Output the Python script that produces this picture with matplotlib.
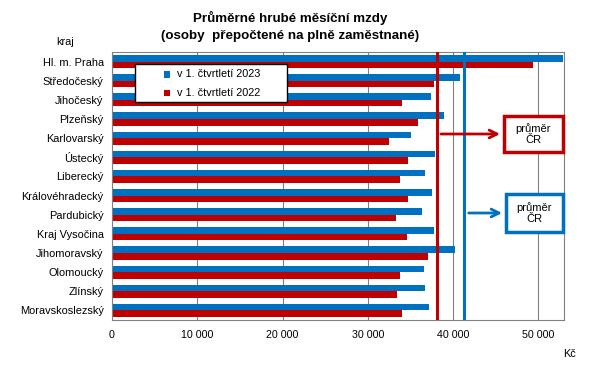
import numpy as np
import matplotlib.pyplot as plt
from matplotlib.patches import Rectangle

plt.rcParams['font.family'] = ['Liberation Sans', 'DejaVu Sans']

kraje = ['Hl. m. Praha', 'Středočeský', 'Jihočeský', 'Plzeňský', 'Karlovarský',
         'Ústecký', 'Liberecký', 'Královéhradecký', 'Pardubický', 'Kraj Vysočina',
         'Jihomoravský', 'Olomoucký', 'Zlínský', 'Moravskoslezský']
mzdy_2023 = [52840, 40800, 37400, 38920, 35010, 37900, 36700, 37510, 36340, 37750,
             40210, 36580, 36690, 37160]
mzdy_2022 = [49320, 37750, 34000, 35870, 32470, 34700, 33760, 34700, 33290, 34580,
             37040, 33760, 33410, 34000]
prumer_2023 = 41300
prumer_2022 = 38060
xticks = [0, 10000, 20000, 30000, 40000, 50000]
popisky = ['v 1. čtvrtletí 2023', 'v 1. čtvrtletí 2022']

modra = '#0070C0'
cervena = '#C00000'

W, H = 590, 366
fig = plt.figure(figsize=(5.9, 3.66), dpi=100)
ax = fig.add_axes([112/W, 1-320/H, 452/W, 268/H])

y = np.arange(len(kraje))
h = 0.34
ax.barh(y - h/2, mzdy_2023, height=h, color=modra, zorder=2)
ax.barh(y + h/2, mzdy_2022, height=h, color=cervena, zorder=2)

ax.axvline(prumer_2022, color=cervena, lw=2.2, zorder=3)
ax.axvline(prumer_2023, color=modra, lw=2.2, zorder=3)

ax.set_ylim(len(kraje) - 0.5, -0.5)
ax.set_xlim(0, 53000)
ax.set_yticks(y)
ax.set_yticklabels(kraje, fontsize=7.9)
ax.set_xticks(xticks)
ax.set_xticklabels([f'{v:,}'.replace(',', ' ') for v in xticks], fontsize=7.7)
ax.tick_params(length=0, pad=6)
ax.tick_params(axis='x', pad=7)
ax.grid(axis='x', color='#808080', lw=0.8, zorder=1)
for s in ax.spines.values():
    s.set_color('#808080')

# legenda
fig.patches.append(Rectangle((135/W, 1-102/H), 152/W, 38/H, transform=fig.transFigure,
                             fc='white', ec='black', lw=1.0, zorder=5))
for i, (txt, barva) in enumerate(zip(popisky, [modra, cervena])):
    yy = 1 - (74 + 19*i)/H
    fig.patches.append(Rectangle((163.5/W, yy - 3.5/H), 6.5/W, 6.5/H,
                                 transform=fig.transFigure, fc=barva, ec='none', zorder=6))
    fig.text(177/W, yy, txt, ha='left', va='center', fontsize=7.8, zorder=6)

fig.text(290/W, 1-18/H, 'Průměrné hrubé měsíční mzdy', ha='center', va='center',
         fontsize=9.6, fontweight='bold')
fig.text(290/W, 1-36/H, '(osoby  přepočtené na plně zaměstnané)', ha='center',
         va='center', fontsize=9.6, fontweight='bold')
fig.text(65/W, 1-42/H, 'kraj', ha='center', va='center', fontsize=7.8)
fig.text(570/W, 1-354/H, 'Kč', ha='center', va='center', fontsize=7.8)

# poznamky "prumer CR"
def box(x0, y0, x1, y1, barva, ax_x, ax_y):
    fig.patches.append(Rectangle((x0/W, 1-y1/H), (x1-x0)/W, (y1-y0)/H,
                                 transform=fig.transFigure,
                                 fc='white', ec=barva, lw=2.5, zorder=5))
    fig.text((x0+x1)/2/W, 1-(y0+y1)/2/H, 'průměr\nČR', ha='center', va='center',
             fontsize=8, linespacing=1.15, zorder=6)
    ax.annotate('', xy=(x0/W - 0.002, 1-ax_y/H), xycoords='figure fraction',
                xytext=(ax_x, 1-ax_y/H), textcoords=('data', 'figure fraction'),
                arrowprops=dict(arrowstyle='->', color=barva, lw=2, mutation_scale=14),
                annotation_clip=False, zorder=6)

box(504, 116, 563, 152, cervena, prumer_2022 + 200, 134)
box(506, 194, 563, 232, modra, prumer_2023 + 200, 213)

fig.savefig('out.png', dpi=100)
